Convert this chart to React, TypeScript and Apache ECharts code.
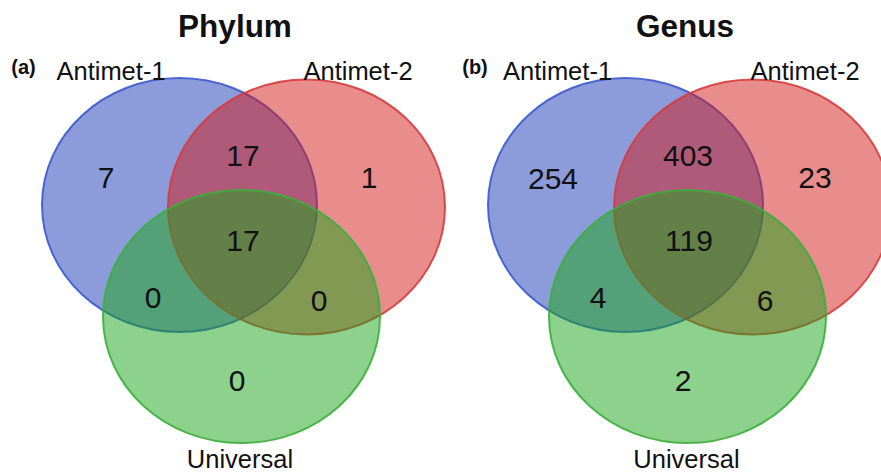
import React, { useEffect, useRef } from "react";
import * as echarts from "echarts";

// ---- data ----
const panelTitles = ["Phylum", "Genus"];
const panelTags = ["(a)", "(b)"];
const setNames = ["Antimet-1", "Antimet-2", "Universal"];
// region order: A1 only, A1∩A2, A2 only, A1∩A2∩U, A1∩U, A2∩U, U only
const phylumCounts = [7, 17, 1, 17, 0, 0, 0];
const genusCounts = [254, 403, 23, 119, 4, 6, 2];

// ---- layout (pixel units of the hidden axes) ----
const W = 881;
const H = 472;
const panelOffsets = [0, 446];
const ellipses = [
  // cx, cy, rx, ry
  [179.5, 205, 137.5, 127],
  [306.5, 207, 138.5, 127.5],
  [241.5, 316.5, 138.5, 126.5],
];
const fills = ["rgba(25,55,180,0.5)", "rgba(210,25,25,0.5)", "rgba(25,165,25,0.5)"];
const strokes = ["rgba(60,90,205,0.9)", "rgba(215,60,60,0.9)", "rgba(60,175,60,0.9)"];
const regionPos = [
  [106, 177],
  [243, 155],
  [369, 177],
  [243, 240],
  [153, 297],
  [319, 300],
  [237, 380],
];
const regionPosB = [
  [553 - 446, 178],
  [688 - 446, 155],
  [815 - 446, 177],
  [689 - 446, 240],
  [598 - 446, 297],
  [765 - 446, 300],
  [683 - 446, 380],
];
const setLabelPos = [
  [[111, 70.5], [358, 70.5], [240, 459]],
  [[557.5 - 446, 70.5], [805 - 446, 70.5], [686.5 - 446, 459]],
];
const titlePos = [[235, 25.5], [685 - 446, 25.5]];
const tagPos = [[23.5, 67], [475 - 446, 67]];

const FONT = "'Liberation Sans', Arial, Helvetica, sans-serif";

export default function App() {
  const ref = useRef<HTMLDivElement>(null);
  useEffect(() => {
    if (!ref.current) return;
    const chart = echarts.init(ref.current, null, { renderer: "svg" });

    const ellipseData: any[] = [];
    panelOffsets.forEach((off) => {
      ellipses.forEach((e, i) => {
        ellipseData.push([e[0] + off, e[1], e[2], e[3], i]);
      });
    });

    const textData: any[] = [];
    const countSets = [phylumCounts, genusCounts];
    const posSets = [regionPos, regionPosB];
    panelOffsets.forEach((off, p) => {
      countSets[p].forEach((v, i) => {
        textData.push([posSets[p][i][0] + off, posSets[p][i][1], String(v), 30, "normal"]);
      });
      setNames.forEach((n, i) => {
        textData.push([setLabelPos[p][i][0] + off, setLabelPos[p][i][1], n, 25.5, "normal"]);
      });
      textData.push([titlePos[p][0] + off, titlePos[p][1], panelTitles[p], 31.5, "bold"]);
      textData.push([tagPos[p][0] + off, tagPos[p][1], panelTags[p], 20, "bold"]);
    });

    chart.setOption({
      animation: false,
      backgroundColor: "#ffffff",
      grid: { left: 0, right: 0, top: 0, bottom: 0, containLabel: false },
      xAxis: { type: "value", min: 0, max: W, show: false },
      yAxis: { type: "value", min: 0, max: H, inverse: true, show: false },
      series: [
        {
          type: "custom",
          clip: false,
          data: ellipseData,
          renderItem: (params: any, api: any) => {
            const c = api.coord([api.value(0), api.value(1)]);
            const s = api.size([api.value(2), api.value(3)]);
            const k = api.value(4);
            return {
              type: "ellipse",
              shape: { cx: c[0], cy: c[1], rx: s[0], ry: s[1] },
              style: { fill: fills[k], stroke: strokes[k], lineWidth: 2 },
            };
          },
        },
        {
          type: "custom",
          clip: false,
          data: textData,
          renderItem: (params: any, api: any) => {
            const d = textData[params.dataIndex];
            const c = api.coord([d[0], d[1]]);
            return {
              type: "text",
              x: c[0],
              y: c[1],
              style: {
                text: d[2],
                fontSize: d[3],
                fontWeight: d[4],
                fontFamily: FONT,
                fill: "#111111",
                align: "center",
                verticalAlign: "middle",
              },
            };
          },
        },
      ],
    });
    return () => chart.dispose();
  }, []);
  return (
    <div
      ref={ref}
      style={{ position: "fixed", left: 0, top: 0, width: W, height: H }}
    />
  );
}
